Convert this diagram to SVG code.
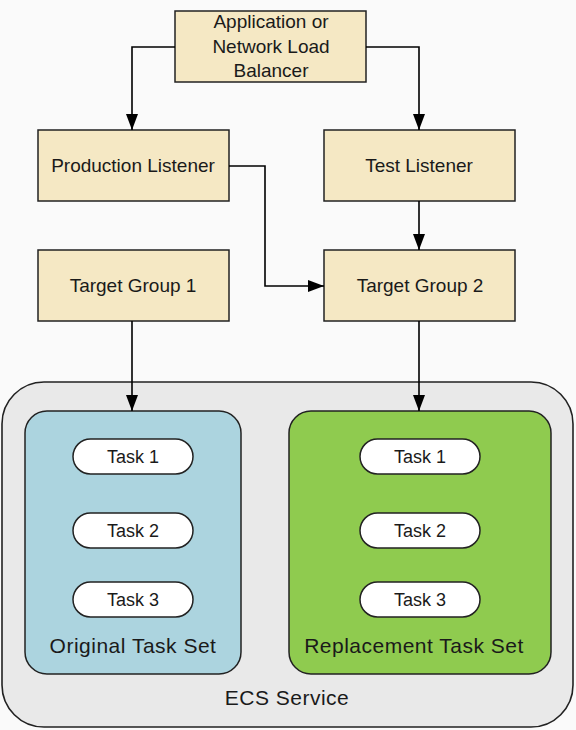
<svg xmlns="http://www.w3.org/2000/svg" width="576" height="730" viewBox="0 0 576 730">
<defs>
<marker id="ah" viewBox="0 0 16 12" refX="16" refY="6" markerWidth="16" markerHeight="12" markerUnits="userSpaceOnUse" orient="auto">
<path d="M0,0 L16,6 L0,12 Z" fill="#000"/>
</marker>
<style>
.box{fill:#f5e8c4;stroke:#222;stroke-width:1.5}
.pill{fill:#fff;stroke:#222;stroke-width:1.5}
.t{font-family:"Liberation Sans",Arial,sans-serif;font-size:18px;fill:#1a1a1a;text-anchor:middle}
.bt{font-family:"Liberation Sans",Arial,sans-serif;font-size:19px;fill:#1a1a1a;text-anchor:middle}
.big{font-family:"Liberation Sans",Arial,sans-serif;font-size:21px;fill:#1a1a1a;text-anchor:middle;letter-spacing:0.5px}
.conn{fill:none;stroke:#000;stroke-width:1.6}
</style>
</defs>
<rect width="576" height="730" fill="#fafafa"/>
<g id="ecs-service">
<rect x="2" y="382" width="571" height="345" rx="42" fill="#e9e9e9" stroke="#222" stroke-width="1.6"/>
<text class="big" x="287" y="705">ECS Service</text>
</g>
<g id="original-task-set">
<rect x="25" y="411" width="216" height="263" rx="22" fill="#acd4df" stroke="#222" stroke-width="1.5"/>
<text class="big" x="133" y="653">Original Task Set</text>
</g>
<g id="replacement-task-set">
<rect x="289" y="411" width="262" height="263" rx="22" fill="#8fcb4f" stroke="#222" stroke-width="1.5"/>
<text class="big" x="414" y="653">Replacement Task Set</text>
</g>
<g id="orig-task1"><rect class="pill" x="73" y="439" width="120" height="35" rx="17.5"/><text class="t" x="133" y="463">Task 1</text></g>
<g id="orig-task2"><rect class="pill" x="73" y="513" width="120" height="35" rx="17.5"/><text class="t" x="133" y="537">Task 2</text></g>
<g id="orig-task3"><rect class="pill" x="73" y="582" width="120" height="35" rx="17.5"/><text class="t" x="133" y="606">Task 3</text></g>
<g id="repl-task1"><rect class="pill" x="360" y="439" width="120" height="35" rx="17.5"/><text class="t" x="420" y="463">Task 1</text></g>
<g id="repl-task2"><rect class="pill" x="360" y="513" width="120" height="35" rx="17.5"/><text class="t" x="420" y="537">Task 2</text></g>
<g id="repl-task3"><rect class="pill" x="360" y="582" width="120" height="35" rx="17.5"/><text class="t" x="420" y="606">Task 3</text></g>
<g id="load-balancer">
<rect class="box" x="175" y="11" width="191" height="71"/>
<text class="bt" x="271" y="28">Application or</text>
<text class="bt" x="271" y="53">Network Load</text>
<text class="bt" x="271" y="77">Balancer</text>
</g>
<g id="production-listener">
<rect class="box" x="38" y="130" width="191" height="71"/>
<text class="bt" x="133" y="172">Production Listener</text>
</g>
<g id="test-listener">
<rect class="box" x="324" y="130" width="191" height="71"/>
<text class="bt" x="419" y="172">Test Listener</text>
</g>
<g id="target-group-1">
<rect class="box" x="38" y="250" width="191" height="71"/>
<text class="bt" x="133" y="292">Target Group 1</text>
</g>
<g id="target-group-2">
<rect class="box" x="324" y="250" width="191" height="71"/>
<text class="bt" x="420" y="292">Target Group 2</text>
</g>
<g id="connectors">
<path class="conn" d="M175,47 H132 V130" marker-end="url(#ah)"/>
<path class="conn" d="M366,47 H419 V130" marker-end="url(#ah)"/>
<path class="conn" d="M229,166 H265 V286 H324" marker-end="url(#ah)"/>
<path class="conn" d="M419,201 V250" marker-end="url(#ah)"/>
<path class="conn" d="M132,321 V411" marker-end="url(#ah)"/>
<path class="conn" d="M419,321 V411" marker-end="url(#ah)"/>
</g>
</svg>
